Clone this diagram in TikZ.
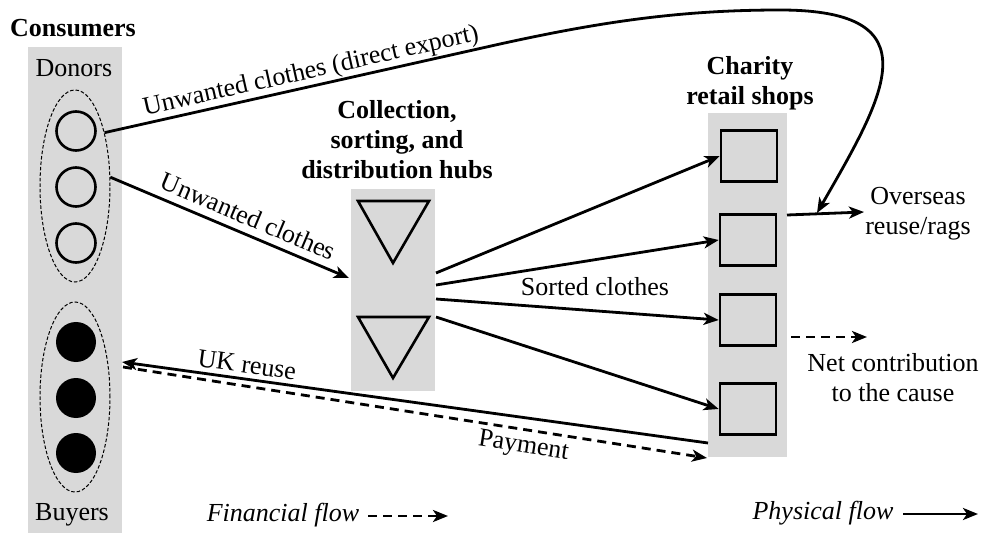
\documentclass[tikz,border=0pt]{standalone}
\usepackage{fontspec}
\setmainfont{Liberation Serif}
\usetikzlibrary{arrows.meta,shapes.geometric,calc}
\definecolor{panel}{RGB}{217,217,217}
\begin{document}
\begin{tikzpicture}[x=1bp,y=-1bp,
  font=\fontsize{26bp}{30bp}\selectfont,
  column/.style={rectangle,fill=panel,draw=none,inner sep=0},
  donor/.style={circle,draw,line width=2.6bp,minimum size=39bp,inner sep=0},
  buyer/.style={circle,fill=black,minimum size=40bp,inner sep=0},
  group/.style={ellipse,draw,dash pattern=on 3.5bp off 2bp,line width=1bp,
    minimum width=70bp,minimum height=192bp,inner sep=0},
  shop/.style={rectangle,draw,fill=panel,line width=2.6bp,
    minimum width=56bp,minimum height=51bp,inner sep=0},
  hub/.style={draw,line width=2.6bp,fill=panel,line join=miter},
  tip/.style={Stealth[length=15bp,width=12bp,inset=4bp]},
  flow/.style={line width=2.8bp,-{Stealth[length=15bp,width=12bp,inset=4bp]}},
  money/.style={flow,dash pattern=on 9bp off 6bp},
  heading/.style={font=\fontsize{26bp}{30bp}\selectfont\bfseries,align=center},
  legend/.style={font=\fontsize{26bp}{30bp}\selectfont\itshape},
]
\useasboundingbox (0,0) rectangle (985,533);

% grey columns
\node[column,minimum width=94bp,minimum height=486bp] (conscol) at (75,290) {};
\node[column,minimum width=84bp,minimum height=202bp] (hubcol) at (393,290) {};
\node[column,minimum width=79bp,minimum height=344bp] (shopcol) at (747.5,285) {};

% headings and group labels
\node[heading] (constitle) at (73,28) {Consumers};
\node (donlab) at (74,68) {Donors};
\node (buylab) at (72,515) {Buyers};
\node[heading] (hubtitle) at (397,140) {Collection,\\sorting, and\\distribution hubs};
\node[heading] (shoptitle) at (750,83) {Charity\\retail shops};

% consumer groups
\node[group] (donors) at (75,186) {};
\node[group,minimum height=190bp] (buyers) at (75,397) {};
\node[donor] (d1) at (76,131) {};
\node[donor] (d2) at (76,187) {};
\node[donor] (d3) at (76,243) {};
\node[buyer] (b1) at (76,342) {};
\node[buyer] (b2) at (76,398) {};
\node[buyer] (b3) at (76,453) {};

% hubs
\draw[hub] (358,201) -- (429,201) -- (393,263) -- cycle;
\draw[hub] (358,317) -- (429,317) -- (393,378) -- cycle;

% shops
\node[shop] (s1) at (749,156) {};
\node[shop] (s2) at (748,240) {};
\node[shop] (s3) at (748,320) {};
\node[shop] (s4) at (748,409) {};

% connector end points
\coordinate (bend) at (500,44);
\coordinate (crest) at (780,10);
\coordinate (hubin) at (349,278);
\coordinate (o1) at (436,273);
\coordinate (o2) at (436,285);
\coordinate (o3) at (436,299);
\coordinate (o4) at (436,317);
\coordinate (ovstart) at (787,215);
\coordinate (ovend) at (864,212);
\coordinate (exportend) at (817,213);
\coordinate (ukshop) at (708,443);
\coordinate (ukbuy) at (122,362);
\coordinate (paybuy) at (123,367);
\coordinate (payshop) at (707,458);
\coordinate (netstart) at (791,337);
\coordinate (netend) at (867,337);
\coordinate (fa) at (368,516);
\coordinate (fb) at (448,516);
\coordinate (pa) at (903,514);
\coordinate (pb) at (978,514);

% physical flows
\draw[flow] (donors.61) -- node[pos=0.53,sloped,above,inner sep=1bp] (explab)
  {Unwanted clothes (direct export)} (bend)
  .. controls (600,22) and (680,10) .. (crest)
  .. controls (935,10) and (885,95) .. (exportend);
\draw[flow] (donors.14) -- node[pos=0.55,sloped,above=4bp] (unwlab) {Unwanted clothes} (hubin);
\draw[flow] (o1) -- (s1.west);
\draw[flow] (o2) -- (s2.west);
\draw[flow] (o3) -- (s3.west);
\draw[flow] (o4) -- (s4.west);
\node (sorted) at (595,287) {Sorted clothes};
\draw[flow] (ovstart) -- (ovend);
\node[align=center] (overseas) at (918,214) {Overseas\\reuse/rags};
\draw[line width=2.8bp,{Stealth[length=15bp,width=12bp,inset=4bp]}-]
  (ukbuy) -- node[pos=0.21,sloped,above=1bp] (uklab) {UK reuse} (ukshop);

% financial flows
\draw[money] (paybuy) -- node[pos=0.69,sloped,below=1bp] (paylab) {Payment} (payshop);
\draw[money] (netstart) -- (netend);
\node[align=center] (net) at (893,378) {Net contribution\\to the cause};

% legend
\node[legend] (finlab) at (283,515) {Financial flow};
\draw[money] (fa) -- (fb);
\node[legend] (phylab) at (823,513) {Physical flow};
\draw[flow] (pa) -- (pb);
\end{tikzpicture}
\end{document}
